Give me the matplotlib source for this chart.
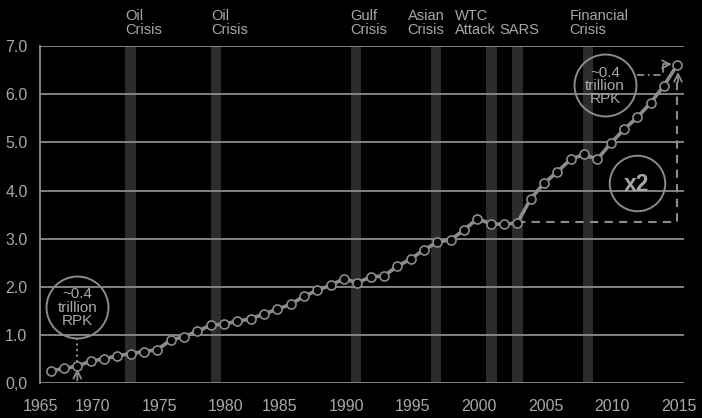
import matplotlib
matplotlib.use('Agg')
import matplotlib.pyplot as plt
from matplotlib import font_manager

# world annual traffic, trillion RPK
years = list(range(1968, 2016))
rpk = [0.26, 0.31, 0.36, 0.46, 0.51, 0.57, 0.62, 0.66, 0.70, 0.90,
       0.97, 1.08, 1.21, 1.23, 1.29, 1.34, 1.44, 1.54, 1.64, 1.81,
       1.93, 2.04, 2.17, 2.09, 2.21, 2.23, 2.43, 2.58, 2.77, 2.93,
       2.98, 3.18, 3.42, 3.31, 3.30, 3.33, 3.83, 4.15, 4.39, 4.65,
       4.75, 4.65, 4.98, 5.27, 5.52, 5.82, 6.18, 6.61]

crisis_names = ['Oil\nCrisis', 'Oil\nCrisis', 'Gulf\nCrisis', 'Asian\nCrisis',
                'WTC\nAttack', 'SARS', 'Financial\nCrisis']
crisis_years = [1974.0, 1980.4, 1990.9, 1996.9, 2001.05, 2003.0, 2008.3]
crisis_label_x = [1973.63, 1980.04, 1990.5, 1994.77, 1998.3, 2001.66, 2006.92]

yticks = [0, 1, 2, 3, 4, 5, 6, 7]
ylabels = ['0,0', '1.0', '2.0', '3.0', '4.0', '5.0', '6.0', '7.0']
xtick_pos = [1967.2, 1971.15, 1976.14, 1981.14, 1985.16, 1990.2,
             1995.15, 2000.14, 2005.14, 2010.13, 2015.12]
xlabels = ['1965', '1970', '1975', '1980', '1985', '1990',
           '1995', '2000', '2005', '2010', '2015']

GRAY = '#8c8c8c'
TXT = '#a8a8a8'
BAR = '#2c2c2c'

names = {f.name for f in font_manager.fontManager.ttflist}
if 'Liberation Sans Narrow' in names:
    NARROW = ['Liberation Sans Narrow', 'DejaVu Sans']
    nsize, csize = 12, 12.5
else:
    NARROW = ['Liberation Sans', 'DejaVu Sans']
    nsize, csize = 10.5, 11

plt.rcParams['font.family'] = ['Liberation Sans', 'DejaVu Sans']

fig = plt.figure(figsize=(7.02, 4.18), dpi=100, facecolor='black')
ax = fig.add_axes([40 / 702, 1 - 383.4 / 418, 644 / 702, 337.4 / 418])
ax.set_facecolor('black')

# crisis bands
for cy in crisis_years:
    ax.axvspan(cy - 0.39, cy + 0.39, color=BAR, zorder=0, lw=0)
for name, lx in zip(crisis_names, crisis_label_x):
    ax.text(lx, 1.035, name, transform=ax.get_xaxis_transform(),
            ha='left', va='baseline', color=TXT, fontsize=nsize,
            family=NARROW, linespacing=1.03)

# grid
for yv in yticks:
    ax.axhline(yv, color=GRAY, lw=1.3, zorder=1)

ax.plot(years, rpk, color=GRAY, lw=2.6, marker='o', ms=6.5,
        mfc='black', mec=GRAY, mew=1.2, zorder=5)

# left annotation
ax.plot([1970], [1.59], 'o', ms=44.6, mfc='none', mec=GRAY, mew=1.4, zorder=4)
ax.text(1970, 1.57, '~0.4\ntrillion\nRPK', ha='center', va='center',
        color=TXT, fontsize=csize, family=NARROW, linespacing=0.95, zorder=6)
ax.plot([1970, 1970], [0.95, 0.42], color=GRAY, lw=1.5, ls=':', zorder=4)
ax.annotate('', xy=(1970, 0.36), xytext=(1970, 0.0),
            arrowprops=dict(arrowstyle='->', color=GRAY, lw=1.3,
                            mutation_scale=14), zorder=4)

# right annotation
ax.plot([2009.57], [6.19], 'o', ms=44.6, mfc='none', mec=GRAY, mew=1.4, zorder=4)
ax.text(2009.57, 6.17, '~0.4\ntrillion\nRPK', ha='center', va='center',
        color=TXT, fontsize=csize, family=NARROW, linespacing=0.95, zorder=6)
ax.plot([2011.95, 2013.96], [6.40, 6.40], color=GRAY, lw=1.3,
        ls=(0, (4, 2, 1, 2)), zorder=4)
ax.annotate('', xy=(2014.8, 6.62), xytext=(2013.96, 6.40),
            arrowprops=dict(arrowstyle='->', color=GRAY, lw=1.3,
                            mutation_scale=14,
                            connectionstyle='angle,angleA=90,angleB=0,rad=0'),
            zorder=4)

ax.plot([2003, 2015, 2015], [3.35, 3.35, 6.3], color=GRAY, lw=1.5,
        ls=(0, (4, 3)), zorder=4)
ax.annotate('', xy=(2015.05, 6.52), xytext=(2015.05, 6.2),
            arrowprops=dict(arrowstyle='->', color=GRAY, lw=1.3,
                            mutation_scale=14), zorder=4)

ax.plot([2011.97], [4.15], 'o', ms=40, mfc='none', mec=GRAY, mew=1.4, zorder=4)
ax.text(2011.97, 4.13, 'x2', ha='center', va='center', color=TXT,
        fontsize=16.5, fontweight='bold', family=NARROW, zorder=6)

ax.set_xlim(1967.5, 2015.5)
ax.set_ylim(0, 7)
ax.set_yticks(yticks)
ax.set_yticklabels(ylabels)
ax.set_xticks(xtick_pos)
ax.set_xticklabels(xlabels)
ax.tick_params(axis='both', length=0, colors=TXT, labelsize=11.5)
ax.tick_params(axis='y', pad=9)
ax.tick_params(axis='x', pad=11)

for s in ['top', 'right', 'bottom']:
    ax.spines[s].set_visible(False)
ax.spines['left'].set_color(GRAY)
ax.spines['left'].set_linewidth(1.3)

fig.savefig('out.png', dpi=100, facecolor='black')
